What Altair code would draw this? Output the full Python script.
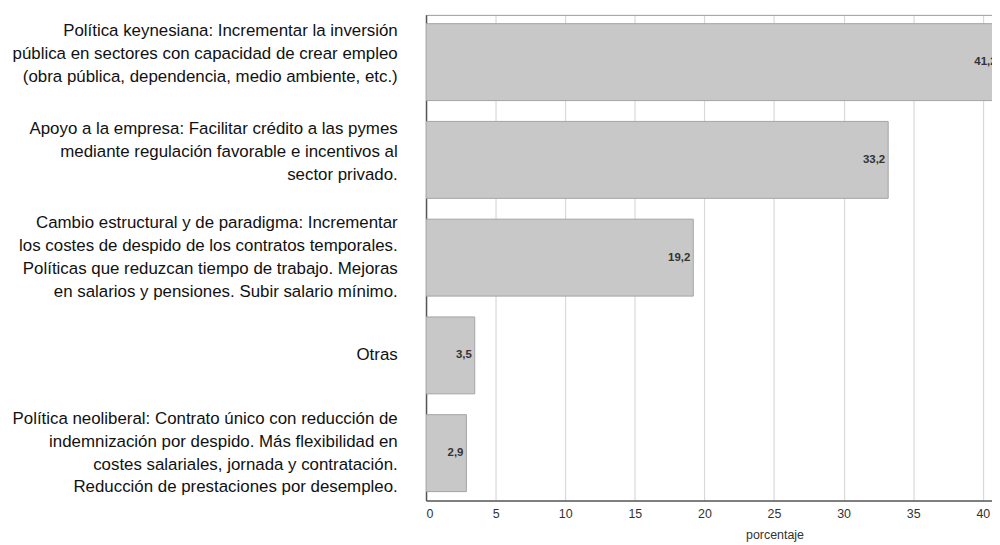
import altair as alt
import pandas as pd

categories = [
    "Política keynesiana: Incrementar  la inversión\npública en sectores con capacidad de crear empleo\n(obra pública, dependencia, medio ambiente, etc.)",
    "Apoyo a la empresa: Facilitar crédito a las pymes\nmediante regulación favorable e incentivos al\nsector privado.",
    "Cambio estructural y de paradigma: Incrementar\nlos costes de despido de los contratos temporales.\nPolíticas que reduzcan tiempo de trabajo. Mejoras\nen salarios y pensiones. Subir salario mínimo.",
    "Otras",
    "Política neoliberal: Contrato único con reducción de\nindemnización por despido. Más flexibilidad en\ncostes salariales, jornada y contratación.\nReducción de prestaciones por desempleo.",
]
values = [41.2, 33.2, 19.2, 3.5, 2.9]
x_title = "porcentaje"

df = pd.DataFrame({"cat": categories, "v": values})

FONT = "Liberation Sans"
NLINES = "length(split(datum.value, '\\n'))"

y_enc = alt.Y(
    "cat:N",
    sort=None,
    title=None,
    scale=alt.Scale(paddingInner=0.213, paddingOuter=0.09),
    axis=alt.Axis(
        labelExpr="split(datum.label, '\\n')",
        labelFont=FONT,
        labelFontSize=17,
        labelLineHeight=23,
        labelColor="#111",
        labelLimit=420,
        labelPadding=29,
        labelOffset={
            "condition": [
                {"test": NLINES + " == 4", "value": -34.5},
                {"test": NLINES + " == 3", "value": -31},
            ],
            "value": 0,
        },
        ticks=False,
        domainColor="#555",
        domainWidth=1.5,
        grid=False,
    ),
)

x_enc = alt.X(
    "v:Q",
    title=x_title,
    scale=alt.Scale(domain=[0, 40.66], nice=False, zero=True),
    axis=alt.Axis(
        values=[0, 5, 10, 15, 20, 25, 30, 35, 40],
        labelFont=FONT,
        labelFontSize=12.5,
        labelColor="#333",
        labelPadding=7,
        ticks=False,
        domainColor="#555",
        domainWidth=1.5,
        gridColor="#d9d9d9",
        gridWidth=1.2,
        titleFont=FONT,
        titleFontSize=12.5,
        titleFontWeight="normal",
        titleColor="#333",
        titleX=351,
        titleY=38,
        titleBaseline="alphabetic",
        titleAnchor="middle",
        titleAlign="center",
    ),
)

bars = alt.Chart(df).mark_bar(
    color="#c8c8c8", stroke="#a3a3a3", strokeWidth=1, clip=True
).encode(x=x_enc, y=y_enc)

labels = alt.Chart(df).transform_calculate(
    lab="replace(format(datum.v, '.1f'), '.', ',')"
).mark_text(
    align="right", baseline="middle", dx=-3, font=FONT, fontSize=11.5,
    fontWeight="bold", color="#333", clip=True
).encode(
    x=alt.X(
        "v:Q",
        axis=alt.Axis(
            orient="top", labels=False, ticks=False, grid=False, title=None,
            domainColor="#999", domainWidth=1,
        ),
    ),
    y=alt.Y("cat:N", sort=None),
    text="lab:N",
)

chart = (
    (bars + labels)
    .resolve_axis(x="independent")
    .properties(
        width=570,
        height=489,
        autosize=alt.AutoSizeParams(type="none"),
        padding={"left": 421, "top": 5, "right": 0, "bottom": 43},
        background="white",
    )
    .configure_view(stroke=None)
)

chart.save("out.html", embed_options={"renderer": "svg", "actions": False})
